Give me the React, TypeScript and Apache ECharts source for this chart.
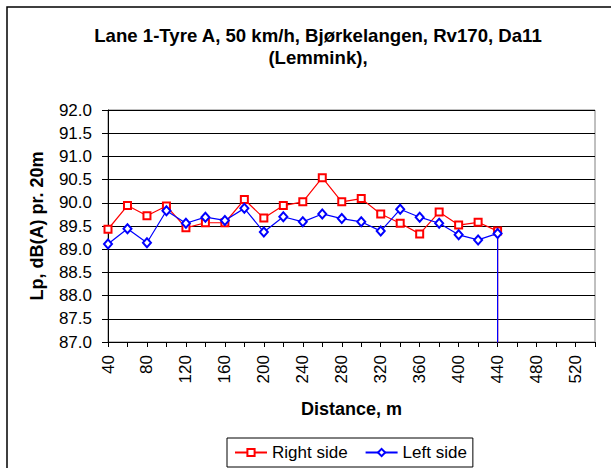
import React, { useEffect, useRef } from "react";
import * as echarts from "echarts";

// Distance along the road (m). The final 440 pairs with 0 dB: the series drop to zero where measurements end.
const distances = [40, 60, 80, 100, 120, 140, 160, 180, 200, 220, 240, 260, 280, 300, 320, 340, 360, 380, 400, 420, 440, 440];
const rightSide = [89.43, 89.94, 89.72, 89.93, 89.46, 89.57, 89.57, 90.07, 89.67, 89.94, 90.02, 90.54, 90.02, 90.09, 89.76, 89.56, 89.33, 89.8, 89.52, 89.58, 89.39, 0];
const leftSide = [89.11, 89.44, 89.14, 89.83, 89.56, 89.69, 89.62, 89.88, 89.37, 89.7, 89.59, 89.76, 89.66, 89.59, 89.39, 89.86, 89.69, 89.56, 89.31, 89.2, 89.34, 0];
const xTickLabels = ["40", "80", "120", "160", "200", "240", "280", "320", "360", "400", "440", "480", "520"];
const yTickLabels = ["87.0", "87.5", "88.0", "88.5", "89.0", "89.5", "90.0", "90.5", "91.0", "91.5", "92.0"];
const seriesNames = ["Right side", "Left side"];
const titleLines = ["Lane 1-Tyre A, 50 km/h, Bjørkelangen, Rv170, Da11", "(Lemmink),"];

const FONT = "'Liberation Sans', Arial, Helvetica, sans-serif";

export default function App() {
  const ref = useRef<HTMLDivElement>(null);
  useEffect(() => {
    if (!ref.current) return;
    const chart = echarts.init(ref.current, undefined, { renderer: "svg" });
    const pairs = (ys: number[]) => distances.map((d, i) => [d, ys[i]]);
    chart.setOption({
      animation: false,
      backgroundColor: "#ffffff",
      textStyle: { fontFamily: FONT, color: "#000" },
      title: {
        text: titleLines.join("\n"),
        left: 318,
        top: 24,
        padding: 0,
        textAlign: "center",
        textStyle: { fontFamily: FONT, fontSize: 18.6, fontWeight: "bold", color: "#000", lineHeight: 22 },
      },
      graphic: [
        {
          type: "rect",
          shape: { x: 7, y: 7, width: 640, height: 500 },
          style: { fill: "none", stroke: "#000", lineWidth: 1.5 },
          silent: true,
        },
      ],
      grid: {
        left: 108,
        top: 110,
        width: 487,
        height: 232,
        show: true,
        borderColor: "#808080",
        borderWidth: 1,
        backgroundColor: "transparent",
      },
      legend: {
        data: seriesNames,
        left: 227,
        top: 438,
        orient: "horizontal",
        itemWidth: 32,
        itemHeight: 9,
        itemGap: 17,
        padding: [6, 6, 6, 7],
        borderColor: "#000",
        borderWidth: 1,
        textStyle: { fontFamily: FONT, fontSize: 17, color: "#000" },
      },
      xAxis: {
        type: "value",
        min: 40,
        max: 540,
        interval: 20,
        name: "Distance, m",
        nameLocation: "middle",
        nameGap: 58,
        nameTextStyle: { fontFamily: FONT, fontSize: 18, fontWeight: "bold", color: "#000" },
        axisLine: { show: true, onZero: false, lineStyle: { color: "#000", width: 1 } },
        axisTick: { show: true, inside: false, length: 5, lineStyle: { color: "#000" } },
        splitLine: { show: false },
        axisLabel: {
          rotate: 90,
          margin: 13,
          fontFamily: FONT,
          fontSize: 17,
          color: "#000",
          showMaxLabel: true,
          showMinLabel: true,
          formatter: (v: number) => (xTickLabels.includes(String(v)) ? String(v) : ""),
        },
      },
      yAxis: {
        type: "value",
        min: 87,
        max: 92,
        interval: 0.5,
        name: "Lp, dB(A) pr. 20m",
        nameLocation: "middle",
        nameGap: 62,
        nameTextStyle: { fontFamily: FONT, fontSize: 18, fontWeight: "bold", color: "#000" },
        axisLine: { show: true, lineStyle: { color: "#000", width: 1 } },
        axisTick: { show: true, inside: false, length: 6, lineStyle: { color: "#000" } },
        splitLine: { show: true, lineStyle: { color: "#000", width: 1 } },
        axisLabel: {
          margin: 16,
          fontFamily: FONT,
          fontSize: 17,
          color: "#000",
          formatter: (v: number) => yTickLabels.find((t) => Math.abs(parseFloat(t) - v) < 1e-6) ?? "",
        },
      },
      series: [
        {
          name: seriesNames[0],
          type: "line",
          data: pairs(rightSide),
          clip: true,
          symbol: "emptyRect",
          symbolSize: 7,
          color: "#ff0000",
          lineStyle: { color: "#ff0000", width: 1.2 },
          itemStyle: { color: "#ff0000", borderWidth: 1.2 },
          z: 2,
        },
        {
          name: seriesNames[1],
          type: "line",
          data: pairs(leftSide),
          clip: true,
          symbol: "emptyDiamond",
          symbolSize: [8, 9],
          color: "#0000ff",
          lineStyle: { color: "#0000ff", width: 1.2 },
          itemStyle: { color: "#0000ff", borderWidth: 1.2 },
          z: 3,
        },
      ],
    });
    return () => chart.dispose();
  }, []);
  return (
    <div style={{ position: "fixed", left: 0, top: 0, width: 611, height: 468, background: "#fff" }}>
      <div ref={ref} style={{ width: 611, height: 468 }} />
    </div>
  );
}
